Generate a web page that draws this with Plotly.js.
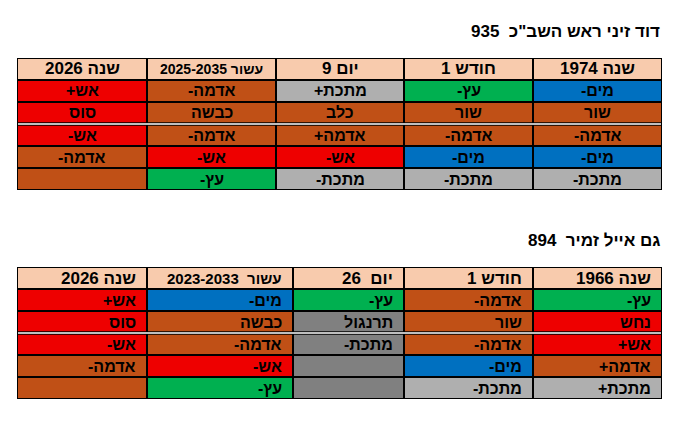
<!DOCTYPE html>
<html><head><meta charset="utf-8">
<script src="https://cdn.plot.ly/plotly-3.0.1.min.js"></script>
<style>html,body{margin:0;padding:0;background:#fff}#chart{width:689px;height:426px}</style>
</head><body><div id="chart"></div>
<script>
// ---------- data ----------
const title1 = 'דוד זיני ראש השב"כ  935';
const headers1 = ['שנה 2026', 'עשור 2025-2035', 'יום 9', 'חודש 1', 'שנה 1974'];
const t1_year2026 = ['אש+', 'סוס', 'אש-', 'אדמה-', ''];
const t1_decade   = ['אדמה-', 'כבשה', 'אדמה-', 'אש-', 'עץ-'];
const t1_day      = ['מתכת+', 'כלב', 'אדמה+', 'אש-', 'מתכת-'];
const t1_month    = ['עץ-', 'שור', 'אדמה-', 'מים-', 'מתכת-'];
const t1_birth    = ['מים-', 'שור', 'אדמה-', 'מים-', 'מתכת-'];
const t1_elem_year2026 = ['fire', 'fire', 'fire', 'earth', 'earth'];
const t1_elem_decade   = ['earth', 'earth', 'earth', 'fire', 'wood'];
const t1_elem_day      = ['metal', 'earth', 'earth', 'fire', 'metal'];
const t1_elem_month    = ['wood', 'earth', 'earth', 'water', 'metal'];
const t1_elem_birth    = ['water', 'earth', 'earth', 'water', 'metal'];

const title2 = 'גם אייל זמיר  894';
const headers2 = ['שנה 2026', 'עשור  2023-2033', 'יום  26', 'חודש 1', 'שנה 1966'];
const t2_year2026 = ['אש+', 'סוס', 'אש-', 'אדמה-', ''];
const t2_decade   = ['מים-', 'כבשה', 'אדמה-', 'אש-', 'עץ-'];
const t2_day      = ['עץ-', 'תרנגול', 'מתכת-', '', ''];
const t2_month    = ['אדמה-', 'שור', 'אדמה-', 'מים-', 'מתכת-'];
const t2_birth    = ['עץ-', 'נחש', 'אש+', 'אדמה+', 'מתכת+'];
const t2_elem_year2026 = ['fire', 'fire', 'fire', 'earth', 'earth'];
const t2_elem_decade   = ['water', 'earth', 'earth', 'fire', 'wood'];
const t2_elem_day      = ['wood', 'metal2', 'metal2', 'metal2', 'metal2'];
const t2_elem_month    = ['earth', 'earth', 'earth', 'water', 'metal'];
const t2_elem_birth    = ['wood', 'fire', 'fire', 'earth', 'metal'];

// ---------- styles / layout ----------
const ELEMS = ['header', 'fire', 'earth', 'water', 'wood', 'metal', 'metal2'];
const elemColor = {header:'#F8CBAD', fire:'#EE0000', earth:'#C05016', water:'#0070C0',
                   wood:'#00B050', metal:'#AFAFAF', metal2:'#808080'};
const FONT = 'Liberation Sans, Arial, sans-serif';
const W = 689, H = 426;
const X0 = 17, X1 = 662;

const colorscale = [];
ELEMS.forEach((e, i) => {
  colorscale.push([i / ELEMS.length, elemColor[e]]);
  colorscale.push([(i + 1) / ELEMS.length, elemColor[e]]);
});

const rtl = s => '<b>' + s + '\u200F</b>';

const annotations = [];
const shapes = [];
const traces = [];
const layout = {
  width: W, height: H,
  margin: {l: 0, r: 0, t: 0, b: 0},
  paper_bgcolor: '#fff', plot_bgcolor: '#000',
  showlegend: false,
  annotations: annotations, shapes: shapes
};

function addTable(idx, headers, cols, elems, top, bottom, widths, align, hsizes) {
  const xa = 'x' + (idx === 1 ? '' : idx), ya = 'y' + (idx === 1 ? '' : idx);
  const xKey = 'xaxis' + (idx === 1 ? '' : idx), yKey = 'yaxis' + (idx === 1 ? '' : idx);
  const edges = [0];
  widths.forEach(w => edges.push(edges[edges.length - 1] + w));
  const nRows = cols[0].length + 1;
  const yEdges = Array.from({length: nRows + 1}, (_, i) => i);
  const z = [];
  for (let r = 0; r < nRows; r++) {
    z.push(cols.map((c, ci) => r === 0 ? 0 : ELEMS.indexOf(elems[ci][r - 1])));
  }
  traces.push({
    type: 'heatmap', x: edges, y: yEdges, z: z, xaxis: xa, yaxis: ya,
    colorscale: colorscale, zmin: -0.5, zmax: ELEMS.length - 0.5,
    showscale: false, xgap: 2, ygap: 2, hoverinfo: 'skip'
  });
  const axCommon = {showgrid: false, zeroline: false, showticklabels: false, ticks: '', fixedrange: true};
  layout[xKey] = Object.assign({}, axCommon, {domain: [X0 / W, X1 / W], range: [0, edges[edges.length - 1]], anchor: ya});
  layout[yKey] = Object.assign({}, axCommon, {domain: [1 - bottom / H, 1 - top / H], range: [nRows, 0], anchor: xa});

  const xPos = ci => align === 'center' ? (edges[ci] + edges[ci + 1]) / 2 : edges[ci + 1] - 9;
  const xAnchor = align === 'center' ? 'center' : 'right';
  headers.forEach((h, ci) => {
    annotations.push({text: rtl(h), xref: xa, yref: ya, x: xPos(ci), y: 0.5, xanchor: xAnchor, yanchor: 'middle',
      showarrow: false, font: {family: FONT, size: hsizes[ci], color: '#000'}});
  });
  cols.forEach((c, ci) => c.forEach((v, ri) => {
    if (!v) return;
    annotations.push({text: rtl(v), xref: xa, yref: ya, x: xPos(ci), y: ri + 1.5, xanchor: xAnchor, yanchor: 'middle',
      showarrow: false, font: {family: FONT, size: 16, color: '#000'}});
  }));
  // separator between 2nd and 3rd data rows
  shapes.push({type: 'line', xref: xa, yref: ya, x0: 0, x1: edges[edges.length - 1], y0: 3, y1: 3,
               line: {color: '#000', width: 3.5}, layer: 'above'});
  shapes.push({type: 'line', xref: xa, yref: ya, x0: 1, x1: edges[edges.length - 1] - 1, y0: 3, y1: 3,
               line: {color: '#fff', width: 1.3}, layer: 'above'});
  // outer frame
  shapes.push({type: 'rect', xref: xa, yref: ya, x0: 0, x1: edges[edges.length - 1], y0: 0, y1: nRows,
               line: {color: '#000', width: 2}, layer: 'above'});
}

addTable(1, headers1,
  [t1_year2026, t1_decade, t1_day, t1_month, t1_birth],
  [t1_elem_year2026, t1_elem_decade, t1_elem_day, t1_elem_month, t1_elem_birth],
  58, 190, [130, 129, 128, 129, 129], 'center', [17, 14, 17, 17, 17]);
addTable(2, headers2,
  [t2_year2026, t2_decade, t2_day, t2_month, t2_birth],
  [t2_elem_year2026, t2_elem_decade, t2_elem_day, t2_elem_month, t2_elem_birth],
  267, 399, [130, 146, 111, 129, 129], 'right', [17, 15, 17, 17, 17]);

annotations.push(
  {text: '<b>' + title1 + '</b>', xref: 'paper', yref: 'paper', x: X1 / W, y: 1 - 31 / H,
   xanchor: 'right', yanchor: 'middle', showarrow: false, font: {family: FONT, size: 17, color: '#000'}},
  {text: '<b>' + title2 + '</b>', xref: 'paper', yref: 'paper', x: X1 / W, y: 1 - 240 / H,
   xanchor: 'right', yanchor: 'middle', showarrow: false, font: {family: FONT, size: 17, color: '#000'}}
);

Plotly.newPlot('chart', traces, layout, {displayModeBar: false, staticPlot: true});
</script></body></html>
